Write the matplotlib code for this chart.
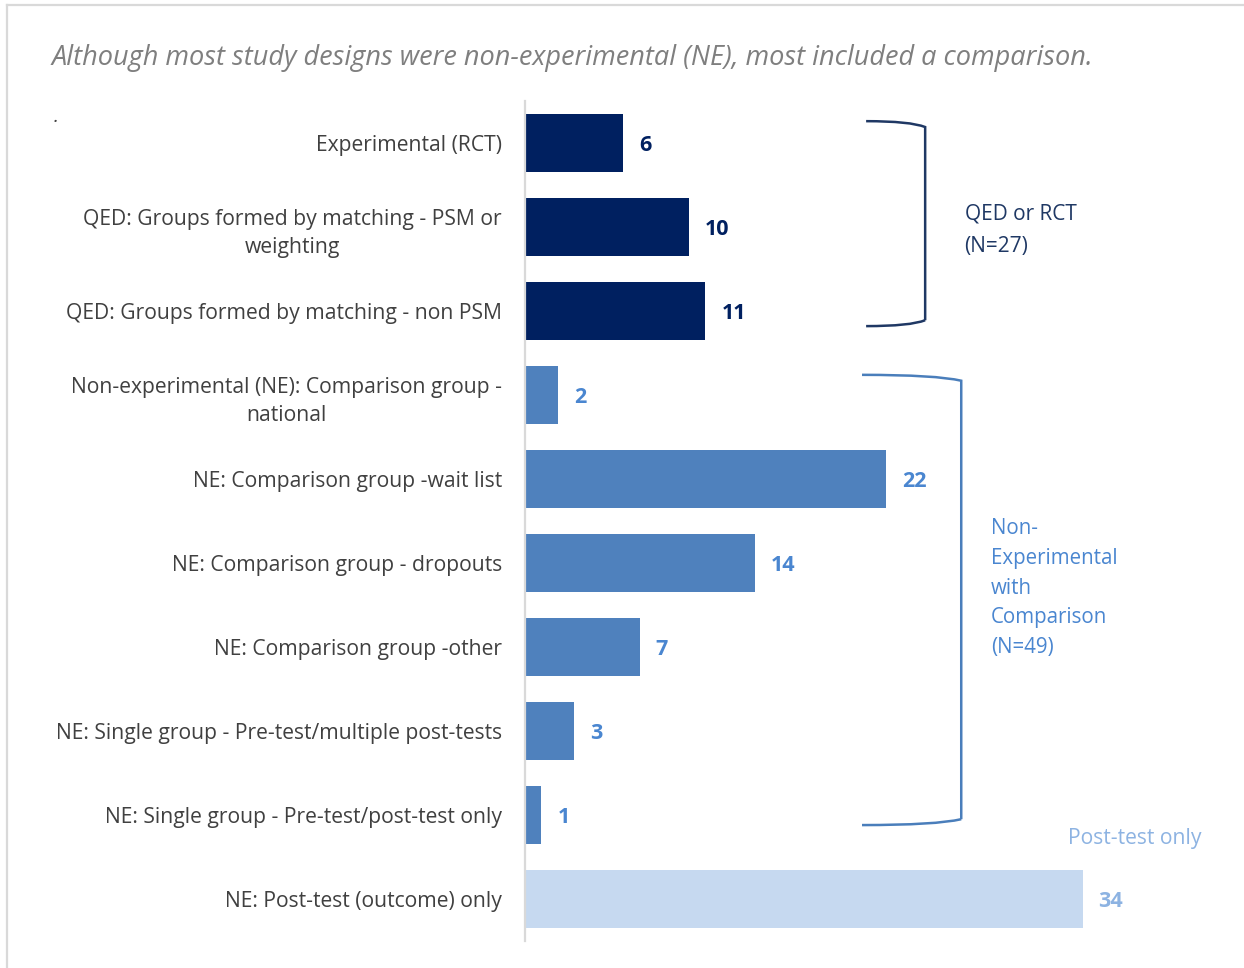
import matplotlib
matplotlib.use("Agg")
import matplotlib.pyplot as plt
from matplotlib.path import Path
from matplotlib.patches import PathPatch
from matplotlib.lines import Line2D

# ---- data -------------------------------------------------------------
categories = [
    "Experimental (RCT)",
    "QED: Groups formed by matching - PSM or\nweighting",
    "QED: Groups formed by matching - non PSM",
    "Non-experimental (NE): Comparison group -\nnational",
    "NE: Comparison group -wait list",
    "NE: Comparison group - dropouts",
    "NE: Comparison group -other",
    "NE: Single group - Pre-test/multiple post-tests",
    "NE: Single group - Pre-test/post-test only",
    "NE: Post-test (outcome) only",
]
counts = [6, 10, 11, 2, 22, 14, 7, 3, 1, 34]
groups = ["qed", "qed", "qed", "ne", "ne", "ne", "ne", "ne", "ne", "post"]

title = "Although most study designs were non-experimental (NE), most included a comparison."
qed_note = "QED or RCT\n(N=27)"
ne_note = "Non-\nExperimental\nwith\nComparison\n(N=49)"
post_note = "Post-test only"

# ---- styles -----------------------------------------------------------
FONT = "Open Sans"
bar_colors = {"qed": "#002060", "ne": "#4F81BD", "post": "#C6D9F0"}
value_colors = {"qed": "#002060", "ne": "#4A86D0", "post": "#8DB3E2"}
plt.rcParams["font.family"] = FONT

W, H = 1244, 968
fig = plt.figure(figsize=(W / 100, H / 100), dpi=100)

px_per_unit = 16.4
xmax = 43
ax = fig.add_axes([525 / W, 27 / H, xmax * px_per_unit / W, 840 / H])

ypos = list(range(len(categories)))
ax.barh(ypos, counts, height=0.69,
        color=[bar_colors[g] for g in groups], zorder=2)

ax.set_xlim(0, xmax)
ax.set_ylim(len(categories) - 0.5, -0.5)
ax.set_xticks([])
ax.set_yticks(ypos)
ax.set_yticklabels(categories, fontsize=15.2, color="#404040",
                   multialignment="center", linespacing=1.45)
ax.tick_params(axis="y", length=0, pad=16.5)
for side in ("top", "right", "bottom"):
    ax.spines[side].set_visible(False)
ax.spines["left"].set_color("#D9D9D9")
ax.spines["left"].set_linewidth(1.6)

# value labels at the end of each bar
for y, v, g in zip(ypos, counts, groups):
    ax.annotate(str(v), xy=(v, y), xytext=(11.5, -2), textcoords="offset points",
                ha="left", va="center", fontsize=15.5, fontweight="bold",
                color=value_colors[g])


def bracket(x0, x1, ytop, ybot, color):
    """Right-facing bracket with softly curved corners (data coords)."""
    dx = (x1 - x0) * 0.25
    dy = 0.07
    verts = [
        (x0, ytop), (x1 - dx, ytop), (x1, ytop + dy),
        (x1, ybot - dy),
        (x1, ybot - dy), (x1 - dx, ybot), (x0, ybot),
    ]
    codes = [Path.MOVETO, Path.CURVE3, Path.CURVE3,
             Path.LINETO,
             Path.MOVETO, Path.CURVE3, Path.CURVE3]
    ax.add_patch(PathPatch(Path(verts, codes), fill=False, edgecolor=color,
                           linewidth=1.8, clip_on=False, zorder=3))


bracket(20.8, 24.4, -0.26, 2.18, "#1F3864")
bracket(20.55, 26.6, 2.76, 8.12, "#4A7EBB")

ax.text(26.8, 1.04, qed_note, ha="left", va="center", fontsize=15,
        color="#1F3864", linespacing=1.75, clip_on=False)
ax.text(28.4, 5.3, ne_note, ha="left", va="center", fontsize=14.8,
        color="#4A86D0", linespacing=1.55, clip_on=False)
ax.text(33.1, 8.28, post_note, ha="left", va="center", fontsize=15.2,
        color="#8DB3E2", clip_on=False)

# title and stray mark
fig.text(52 / W, 1 - 58 / H, title, ha="left", va="center", fontsize=19.5,
         style="italic", color="#7F7F7F")
fig.text(54 / W, 1 - 117 / H, ".", ha="left", va="center", fontsize=14,
         style="italic", color="#404040")

# light frame around the chart area
fig.add_artist(Line2D([7 / W, 7 / W], [0, 1 - 5 / H], transform=fig.transFigure,
                      color="#D9D9D9", linewidth=1.6))
fig.add_artist(Line2D([7 / W, 1], [1 - 5 / H, 1 - 5 / H], transform=fig.transFigure,
                      color="#D9D9D9", linewidth=1.6))

fig.savefig("out.png", dpi=100, facecolor="white")
